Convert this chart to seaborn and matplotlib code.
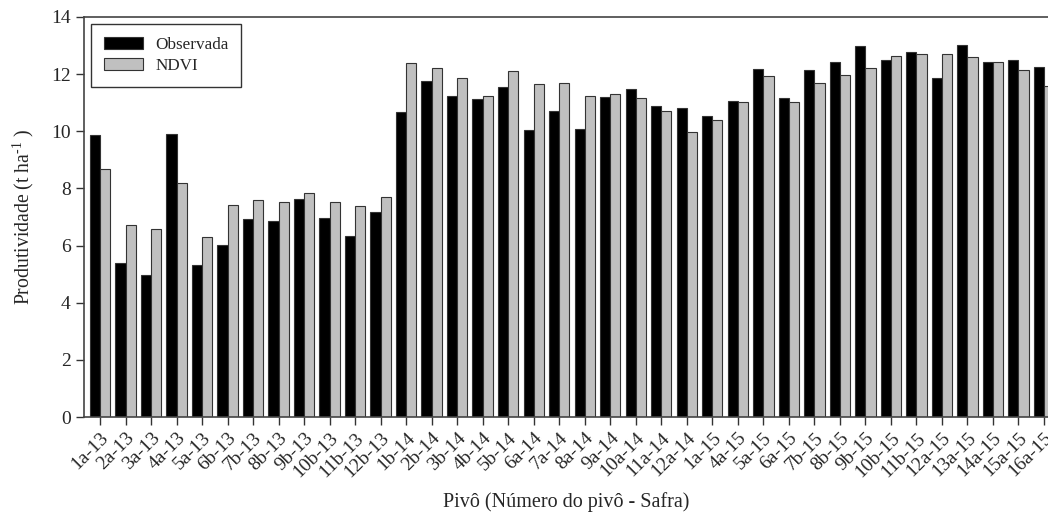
import matplotlib
matplotlib.use("Agg")
import matplotlib.pyplot as plt
import seaborn as sns
import pandas as pd

pivos = ["1a-13", "2a-13", "3a-13", "4a-13", "5a-13", "6b-13", "7b-13", "8b-13",
         "9b-13", "10b-13", "11b-13", "12b-13", "1b-14", "2b-14", "3b-14", "4b-14",
         "5b-14", "6a-14", "7a-14", "8a-14", "9a-14", "10a-14", "11a-14", "12a-14",
         "1a-15", "4a-15", "5a-15", "6a-15", "7b-15", "8b-15", "9b-15", "10b-15",
         "11b-15", "12a-15", "13a-15", "14a-15", "15a-15", "16a-15"]

observada = [9.87, 5.38, 4.98, 9.89, 5.33, 6.03, 6.94, 6.85, 7.64, 6.95, 6.35, 7.16,
             10.69, 11.75, 11.24, 11.13, 11.55, 10.06, 10.72, 10.09, 11.20, 11.49,
             10.87, 10.82, 10.55, 11.06, 12.18, 11.15, 12.13, 12.43, 12.99, 12.49,
             12.79, 11.86, 13.03, 12.42, 12.50, 12.26]

ndvi = [8.69, 6.72, 6.59, 8.20, 6.29, 7.41, 7.58, 7.54, 7.85, 7.51, 7.37, 7.70,
        12.40, 12.23, 11.88, 11.24, 12.12, 11.66, 11.68, 11.24, 11.31, 11.15,
        10.70, 9.96, 10.40, 11.03, 11.92, 11.04, 11.69, 11.97, 12.22, 12.64,
        12.71, 12.71, 12.61, 12.44, 12.14, 11.59]

series = ["Observada", "NDVI"]
cores = ["#000000", "#c0c0c0"]

df = pd.DataFrame({
    "pivo": pivos * 2,
    "valor": observada + ndvi,
    "serie": [series[0]] * len(pivos) + [series[1]] * len(pivos),
})

sns.set_theme(style="ticks")
plt.rcParams["font.family"] = ["Liberation Serif", "DejaVu Serif"]

fig = plt.figure(figsize=(10.48, 5.12), dpi=100)
ax = fig.add_axes([0.0802, 0.1855, 0.9198, 0.7813])

sns.barplot(data=df, x="pivo", y="valor", hue="serie", order=pivos,
            hue_order=series, palette=cores, width=0.8, saturation=1,
            edgecolor="#333333", linewidth=0.8, ax=ax)

ax.set_ylim(0, 14)
ax.set_yticks(range(0, 15, 2))
ax.set_xlim(-0.627, 37.16)

ax.set_xlabel("Pivô (Número do pivô - Safra)", fontsize=14.5, labelpad=8)
ax.set_ylabel("Produtividade (t ha$^{\\mathregular{\u2010 1}}$ )", fontsize=14.2, labelpad=11)

ax.tick_params(axis="both", direction="out", length=6, width=1, color="#333333",
               labelsize=14)
ax.tick_params(axis="x", pad=3)
for lbl in ax.get_xticklabels():
    lbl.set_rotation(45)
    lbl.set_ha("right")
    lbl.set_rotation_mode("anchor")

for side in ["left", "bottom", "top"]:
    ax.spines[side].set_visible(True)
    ax.spines[side].set_color("#444444")
    ax.spines[side].set_linewidth(1.2)
ax.spines["right"].set_visible(False)

leg = ax.legend(loc="upper left", bbox_to_anchor=(0.0073, 0.983), fontsize=12.3,
                frameon=True, fancybox=False, edgecolor="#000000",
                handlelength=2.3, handleheight=0.72, borderpad=0.75,
                labelspacing=0.3, handletextpad=0.7, borderaxespad=0)
leg.get_frame().set_linewidth(1.0)
leg.set_title(None)

fig.savefig("out.png", dpi=100)
